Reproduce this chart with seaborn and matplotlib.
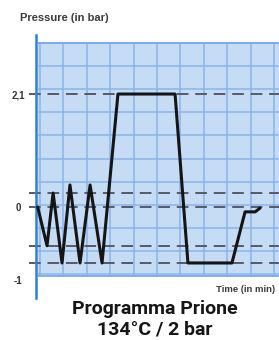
import matplotlib
matplotlib.use("Agg")
import matplotlib.pyplot as plt
import seaborn as sns
import pandas as pd

# pressure program (schematic), time in grid cells, pressure in bar
time_min = [-0.1, 0.30, 0.56, 0.94, 1.28, 1.71, 2.14, 2.65, 3.33, 5.77, 6.32, 8.20, 8.76, 9.19, 9.40]
pressure = [0.0, -0.72, 0.26, -1.04, 0.41, -1.04, 0.41, -1.04, 2.1, 2.1, -1.04, -1.04, -0.09, -0.09, -0.02]
levels = [2.1, 0.26, 0.0, -0.72, -1.04]
tick_pos = [2.1, 0.0, -1.36]
tick_labels = ["2,1", "0", "-1"]

sns.set_style("white")
plt.rcParams['font.family'] = ['Liberation Sans', 'DejaVu Sans']

df = pd.DataFrame({"time": time_min, "pressure": pressure})

fig = plt.figure(figsize=(2.79, 3.40), dpi=100)
ax = fig.add_axes([36 / 279, 1 - 298 / 340, 243 / 279, 263 / 340])
ax.set_xlim(-0.171, 10.21)
ax.set_ylim(-1.691, 3.197)

# blue grid paper
top, bottom = 3.05, -1.28
ax.axhspan(bottom, top, xmin=0.008, xmax=1, color="#c6dbf4", lw=0, zorder=0)
ax.vlines(range(0, 11), bottom, top, color="#89b5ea", lw=1.1, zorder=1)
ax.hlines([top - 0.43 * k for k in range(0, 11)], -0.1, 10.3, color="#89b5ea", lw=1.1, zorder=1)
ax.hlines([top, bottom], -0.1, 10.3, color="#7aabe6", lw=1.3, zorder=1)

# reference levels
ax.hlines(levels, -0.45, 10.3, color="#555a66", lw=1.4, linestyles=(0, (6, 3.5)),
          zorder=2, clip_on=False)

sns.lineplot(data=df, x="time", y="pressure", ax=ax, color="#151515", lw=2.2,
             sort=False, estimator=None, zorder=3)

for side in ["top", "right", "bottom"]:
    ax.spines[side].set_visible(False)
ax.spines["left"].set_color("#2f7fd8")
ax.spines["left"].set_linewidth(1.8)

ax.set_xticks([])
ax.set_yticks(tick_pos)
ax.set_yticklabels(tick_labels, fontsize=7, fontweight="bold", color="#333333")
for lab in ax.get_yticklabels():
    lab.set_ha("center")
ax.tick_params(axis="y", length=0, pad=13)
ax.set_xlabel("")
ax.set_ylabel("")

fig.text(20 / 279, 1 - 18 / 340, "Pressure (in bar)", fontsize=8, fontweight="bold",
         color="#3a3a3a", va="center", ha="left")
fig.text(275 / 279, 1 - 289 / 340, "Time (in min)", fontsize=6.8, fontweight="bold",
         color="#3a3a3a", va="center", ha="right")
fig.text(155 / 279, 1 - 309 / 340, "Programma Prione", fontsize=14, fontweight="bold",
         color="#161616", va="center", ha="center", family=['Roboto', 'DejaVu Sans'])
fig.text(155 / 279, 1 - 330 / 340, "134°C / 2 bar", fontsize=14, fontweight="bold",
         color="#161616", va="center", ha="center", family=['Roboto', 'DejaVu Sans'])

fig.savefig("out.png", dpi=100)
